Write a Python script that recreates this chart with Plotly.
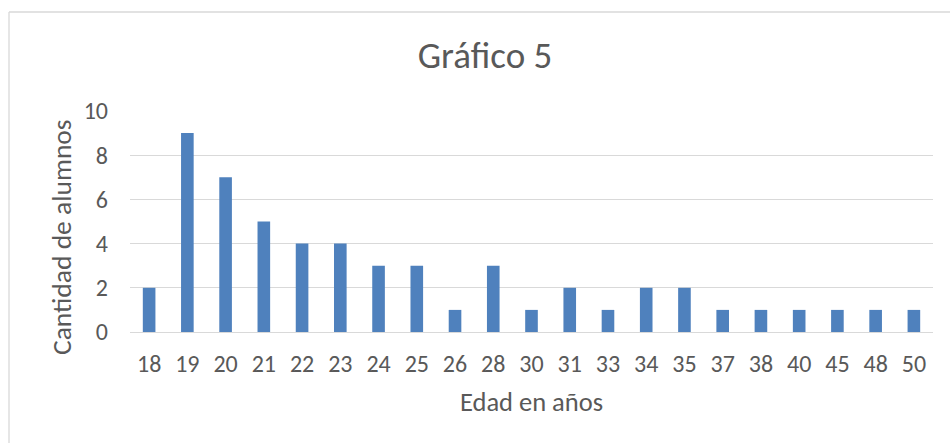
import plotly.graph_objects as go

edades = ["18", "19", "20", "21", "22", "23", "24", "25", "26", "28", "30",
          "31", "33", "34", "35", "37", "38", "40", "45", "48", "50"]
alumnos = [2, 9, 7, 5, 4, 4, 3, 3, 1, 3, 1, 2, 1, 2, 2, 1, 1, 1, 1, 1, 1]

W, H = 950, 443
L, R, T, B = 130, 17, 111, 111
pw, ph = W - L - R, H - T - B

def px(x):
    return (x - L) / pw

def py(y):
    return (H - B - y) / ph

fig = go.Figure(go.Bar(x=edades, y=alumnos, marker=dict(color="#4F81BD", line=dict(width=0))))

txt = "#595959"
font_fam = "Calibri, Carlito, 'Liberation Sans', sans-serif"
fig.update_layout(
    width=W, height=H,
    margin=dict(l=L, r=R, t=T, b=B),
    paper_bgcolor="white", plot_bgcolor="white",
    bargap=0.67,
    showlegend=False,
    font=dict(family=font_fam, color=txt),
    title=dict(text="Gráfico 5", x=485 / W, xanchor="center", y=1 - 55 / H, yanchor="middle",
               font=dict(size=37, color=txt)),
    xaxis=dict(type="category", showgrid=False, showline=False, ticks="",
               tickfont=dict(size=24, color=txt), ticklabelstandoff=15,
               title=dict(text="Edad en años", font=dict(size=26.5, color=txt), standoff=15)),
    yaxis=dict(range=[0, 10], dtick=2, showgrid=True, gridcolor="#D9D9D9", gridwidth=1.3,
               zeroline=True, zerolinecolor="#D9D9D9", zerolinewidth=1.3,
               tickfont=dict(size=24, color=txt), ticks="", ticklabelstandoff=21),
    annotations=[
        dict(text="Cantidad de alumnos", textangle=-90, xref="paper", yref="paper",
             x=px(61), y=py(237), xanchor="center", yanchor="middle", showarrow=False,
             font=dict(size=27.5, color=txt)),
    ],
    shapes=[
        dict(type="line", xref="paper", yref="paper", x0=px(9), x1=px(960), y0=py(12), y1=py(12),
             line=dict(color="#D9D9D9", width=1.3)),
        dict(type="line", xref="paper", yref="paper", x0=px(9), x1=px(9), y0=py(12), y1=py(460),
             line=dict(color="#D9D9D9", width=1.3)),
    ],
)

fig.write_html("out.html", config={"displayModeBar": False},
               post_script="document.body.style.margin='0px';")
